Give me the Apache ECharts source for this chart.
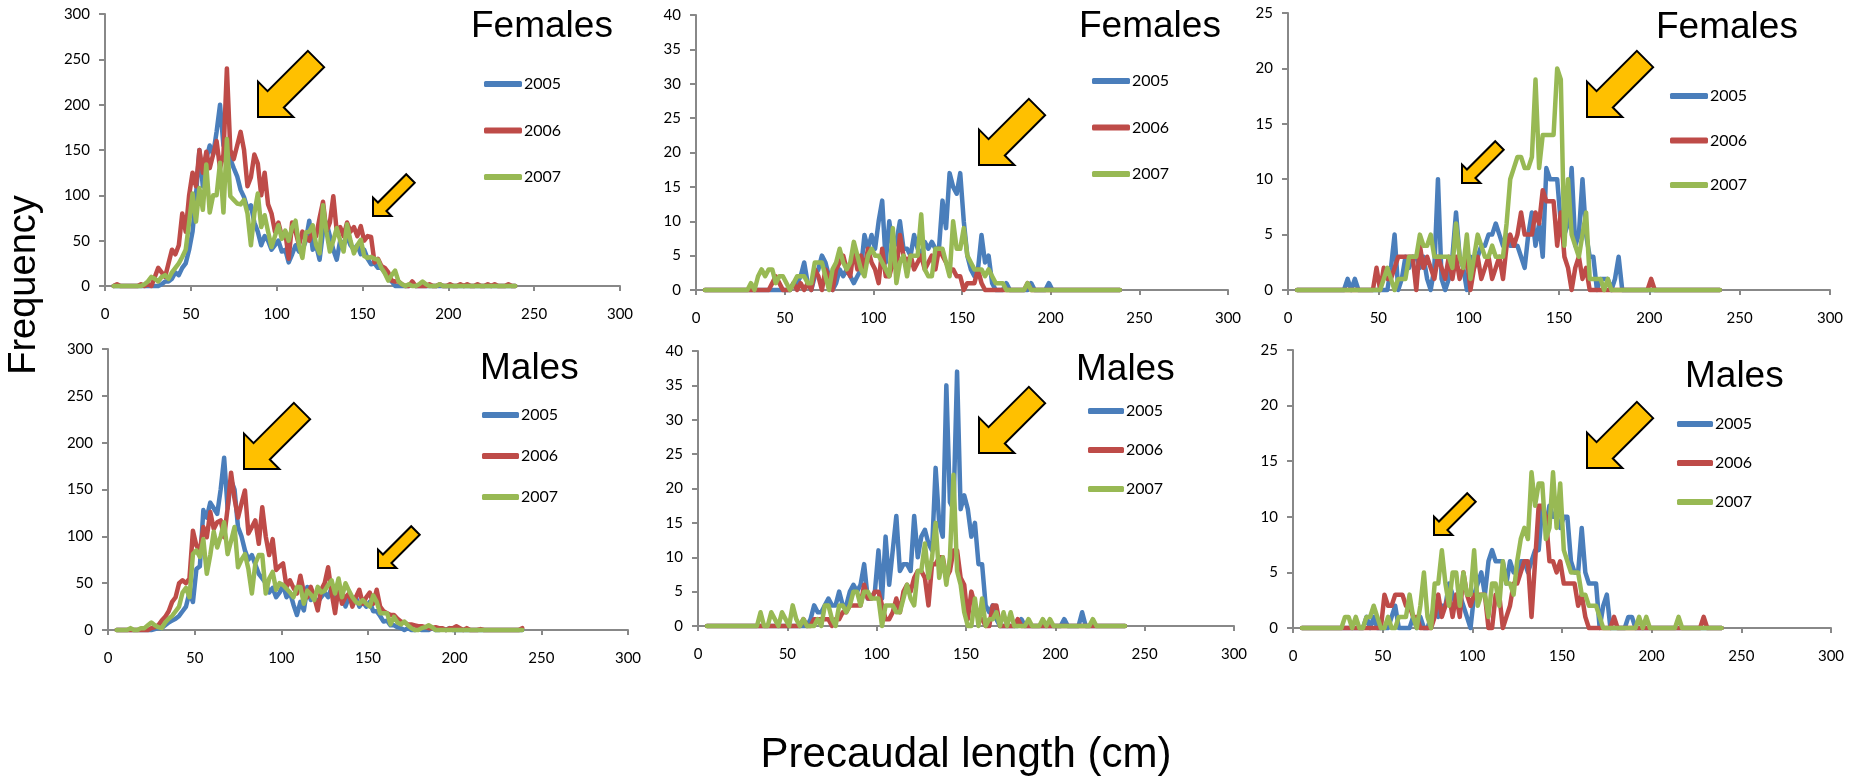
<!DOCTYPE html>
<html><head><meta charset="utf-8">
<script src="https://cdn.jsdelivr.net/npm/echarts@6/dist/echarts.min.js"></script>
<style>html,body{margin:0;padding:0;background:#fff}#c{width:1858px;height:776px}</style>
</head><body><div id="c"></div><script>
// Precaudal length bins (cm)
const lengthBins = [5,7,9,11,13,15,17,19,21,23,25,27,29,31,33,35,37,39,41,43,45,47,49,51,53,55,57,59,61,63,65,67,69,71,73,75,77,79,81,83,85,87,89,91,93,95,97,99,101,103,105,107,109,111,113,115,117,119,121,123,125,127,129,131,133,135,137,139,141,143,145,147,149,151,153,155,157,159,161,163,165,167,169,171,173,175,177,179,181,183,185,187,189,191,193,195,197,199,201,203,205,207,209,211,213,215,217,219,221,223,225,227,229,231,233,235,237,239];
const years = ['2005','2006','2007'];
const yearColors = ['#4A7EBB','#BE4B48','#98B954'];
const xTickStep = 50, xMax = 300;
const panelTitles = ['Females','Females','Females','Males','Males','Males'];
const yMaxes = [300,40,25,300,40,25];
const ySteps = [50,5,5,50,5,5];
const xAxisTitle = 'Precaudal length (cm)';
const yAxisTitle = 'Frequency';

// Panel 1 (Females, left)
const p1_2005 = [0,0,0,0,0,0,0,0,0,0, 0,0,0,0,2,5,5,8,15,12, 20,25,40,60,100,150,110,140,155,145, 170,200,155,150,140,130,121,106,98,85, 89,70,60,45,55,50,40,45,50,38, 40,26,35,45,38,40,50,72,40,45, 29,60,70,55,40,29,50,45,55,45, 40,45,35,40,30,24,25,20,20,15, 8,5,0,0,0,0,0,2,0,0, 0,0,0,0,0,0,0,0,0,0, 0,0,0,0,0,0,0,0,0,0, 0,0,0,0,0,0,0,0];
const p1_2006 = [0,2,0,0,0,0,0,0,2,0, 2,0,10,20,15,10,25,40,35,45, 80,60,100,125,110,150,125,148,130,145, 160,130,145,240,150,140,155,170,150,110, 120,145,135,100,125,90,80,60,70,55, 60,30,70,60,45,60,55,50,60,55, 75,93,60,70,99,60,65,55,70,60, 65,55,66,50,55,54,26,30,22,20, 15,6,5,5,2,0,0,5,0,0, 0,0,2,0,0,2,0,0,2,0, 0,2,0,2,0,0,2,0,0,2, 0,2,0,0,0,2,0,0];
const p1_2007 = [0,0,0,0,0,0,0,0,0,2, 5,10,8,5,10,12,8,15,20,25, 32,40,70,102,71,108,84,134,81,100, 100,136,81,162,99,95,91,90,95,80, 45,80,102,65,78,60,43,55,67,52, 61,50,65,72,45,31,59,60,67,45, 36,89,60,38,50,64,50,38,68,50, 36,45,51,33,31,32,30,29,20,14, 6,12,17,5,2,0,2,0,0,2, 5,2,0,0,0,2,0,0,0,0, 0,0,0,0,0,0,0,0,0,0, 0,0,0,0,0,0,0,0];
// Panel 2 (Females, middle)
const p2_2005 = [0,0,0,0,0,0,0,0,0,0, 0,0,0,0,0,0,0,0,0,0, 0,0,0,0,0,1,1,2,4,1, 0,2,3,5,4,2,0,1,3,2, 3,2,1,2,3,8,6,8,6,10, 13,4,10,6,7,10,6,6,5,8, 6,5,7,6,7,6,6,13,9,17, 15,14,17,10,5,3,2,3,8,4, 5,1,0,0,0,1,0,0,0,0, 0,0,1,0,0,0,0,1,0,0, 0,0,0,0,0,0,0,0,0,0, 0,0,0,0,0,0,0,0];
const p2_2006 = [0,0,0,0,0,0,0,0,0,0, 0,0,0,0,0,0,0,0,0,1, 2,1,0,0,0,1,0,1,0,1, 0,3,2,0,3,2,0,3,4,5, 3,2,6,3,5,3,6,4,3,1, 6,2,2,4,3,8,5,4,5,3, 4,5,3,4,5,3,6,5,4,3, 3,2,2,0,1,1,1,3,1,0, 0,0,0,0,0,0,0,0,0,0, 0,1,0,0,0,0,0,0,0,0, 0,0,0,0,0,0,0,0,0,0, 0,0,0,0,0,0,0,0];
const p2_2007 = [0,0,0,0,0,0,0,0,0,0, 0,0,0,1,0,2,3,2,3,3, 1,2,2,1,0,1,2,2,2,1, 1,4,4,4,2,0,3,4,6,4, 3,4,7,5,3,2,5,6,5,5, 4,3,2,9,1,4,5,2,5,5, 5,11,3,2,2,6,6,6,4,2, 10,6,6,9,5,4,3,3,3,2, 3,2,1,1,1,0,0,0,0,0, 0,1,0,0,0,0,0,0,0,0, 0,0,0,0,0,0,0,0,0,0, 0,0,0,0,0,0,0,0];
// Panel 3 (Females, right)
const p3_2005 = [0,0,0,0,0,0,0,0,0,0, 0,0,0,0,1,0,1,0,0,0, 0,0,0,0,0,0,2,5,0,1, 3,2,3,3,2,3,1,0,2,10, 1,0,1,3,7,3,2,0,3,2, 3,4,4,5,5,6,5,4,5,4, 4,4,3,2,5,7,4,6,3,11, 10,10,10,6,5,6,11,4,5,10, 5,3,3,0,1,1,1,0,1,3, 0,0,0,0,0,0,0,0,0,0, 0,0,0,0,0,0,0,0,0,0, 0,0,0,0,0,0,0,0];
const p3_2006 = [0,0,0,0,0,0,0,0,0,0, 0,0,0,0,0,0,0,0,0,0, 0,0,2,0,2,1,1,2,3,3, 3,3,3,0,4,2,3,2,1,3, 2,1,3,1,3,1,2,3,0,2, 3,1,2,3,1,2,3,1,4,5, 4,5,7,5,5,5,7,6,9,8, 8,8,4,7,3,2,0,2,3,1, 2,0,0,0,0,0,0,0,0,0, 0,0,0,0,0,0,0,0,1,0, 0,0,0,0,0,0,0,0,0,0, 0,0,0,0,0,0,0,0];
const p3_2007 = [0,0,0,0,0,0,0,0,0,0, 0,0,0,0,0,0,0,0,0,0, 0,0,0,0,1,2,1,0,1,1, 1,3,3,3,5,4,4,5,3,3, 3,3,3,2,6,3,2,5,1,3, 5,4,3,3,4,3,3,3,6,10, 11,12,12,11,11,12,19,11,14,14, 14,14,20,19,4,10,5,4,3,5, 7,1,1,1,1,0,1,0,0,0, 0,0,0,0,0,0,0,0,0,0, 0,0,0,0,0,0,0,0,0,0, 0,0,0,0,0,0,0,0];
// Panel 4 (Males, left)
const p4_2005 = [0,0,0,0,0,0,0,0,0,0, 0,1,2,2,5,8,10,12,15,20, 25,40,30,65,68,128,120,136,130,124, 150,184,130,160,150,110,100,85,75,80, 70,60,55,50,40,45,35,40,48,35, 40,27,16,30,21,46,32,35,30,35, 40,35,45,30,35,40,25,35,30,35, 25,30,25,30,20,20,15,9,10,5, 5,3,2,0,2,0,0,1,0,0, 0,2,0,0,1,0,2,0,0,0, 0,0,0,0,0,0,0,0,0,0, 0,0,0,0,0,0,0,0];
const p4_2006 = [0,0,0,0,0,0,0,0,0,0, 2,3,5,10,14,20,30,35,50,53, 50,55,106,90,85,110,99,126,108,115, 117,99,130,168,140,120,135,149,103,110, 117,92,131,100,80,97,64,68,71,46, 53,45,39,58,40,35,46,35,21,43, 50,67,40,18,46,28,35,39,25,35, 43,28,35,40,28,43,25,20,18,16, 16,12,9,8,6,6,5,4,4,3, 2,2,3,2,2,0,2,2,4,2, 0,2,0,0,0,1,0,0,0,0, 0,0,0,0,0,0,0,2];
const p4_2007 = [0,0,0,0,2,0,0,2,2,5, 8,5,3,2,8,12,15,20,25,40, 45,35,81,85,78,97,60,80,105,88, 100,115,81,95,110,67,75,81,65,39, 71,80,80,39,55,62,43,50,48,44, 40,35,46,46,28,42,38,32,46,40, 42,48,53,39,55,35,50,42,35,30, 28,32,28,25,37,30,18,18,18,6, 14,8,6,9,5,2,0,0,2,3, 5,3,0,0,0,0,0,0,0,0, 0,0,0,0,0,0,0,0,0,0, 0,0,0,0,0,0,0,0];
// Panel 5 (Males, middle)
const p5_2005 = [0,0,0,0,0,0,0,0,0,0, 0,0,0,0,0,0,0,0,0,0, 0,0,0,0,0,0,0,0,0,1, 3,2,2,3,4,3,3,5,3,3, 5,6,5,6,9,4,4,5,11,4, 13,6,11,16,8,9,9,8,16,10, 13,14,12,11,23,15,13,35,18,17, 37,17,19,17,13,15,9,9,3,2, 3,1,0,0,0,0,0,0,1,0, 0,0,0,0,0,0,0,0,0,0, 1,0,0,0,0,2,0,0,0,0, 0,0,0,0,0,0,0,0];
const p5_2006 = [0,0,0,0,0,0,0,0,0,0, 0,0,0,0,0,0,0,0,0,0, 0,0,0,0,0,0,0,1,0,0, 1,1,1,1,1,0,1,1,2,2, 3,3,3,3,6,4,4,5,5,3, 1,1,2,4,2,5,6,5,7,8, 8,7,3,9,9,10,10,7,8,11, 11,7,6,1,5,3,1,1,0,0, 3,3,0,0,0,0,0,1,0,0, 0,0,0,0,0,0,0,0,0,0, 0,0,0,0,0,0,0,0,0,0, 0,0,0,0,0,0,0,0];
const p5_2007 = [0,0,0,0,0,0,0,0,0,0, 0,0,0,0,0,2,0,0,2,1, 0,2,1,0,3,1,0,1,0,0, 0,1,0,3,3,1,0,3,3,2, 3,5,5,3,5,5,4,4,4,0, 3,3,3,2,2,4,6,4,3,8, 8,12,7,10,15,7,10,6,10,22, 8,6,2,0,0,4,0,4,0,1, 1,2,0,2,0,2,0,0,0,0, 1,0,0,0,1,0,1,0,0,0, 0,0,0,0,0,0,0,0,1,0, 0,0,0,0,0,0,0,0];
// Panel 6 (Males, right)
const p6_2005 = [0,0,0,0,0,0,0,0,0,0, 0,0,0,0,0,0,0,0,1,0, 1,0,0,0,0,1,2,0,0,0, 0,1,0,1,0,0,1,2,1,2, 2,4,3,2,3,2,1,0,3,4, 5,3,6,7,6,6,6,4,6,5, 5,6,6,5,6,7,7,11,9,11, 10,10,9,10,10,6,5,5,9,5, 4,4,4,0,2,3,0,0,0,0, 0,1,1,0,0,0,0,0,0,0, 0,0,0,0,0,0,0,0,0,0, 0,0,0,0,0,0,0,0];
const p6_2006 = [0,0,0,0,0,0,0,0,0,0, 0,0,0,0,0,0,0,0,0,0, 0,0,0,3,2,2,3,3,3,2, 2,1,1,0,0,0,0,1,3,1, 2,3,1,3,1,5,3,2,3,3, 3,3,0,0,3,3,0,1,2,4, 4,5,6,6,1,6,11,11,10,6, 6,5,6,4,4,4,4,2,3,1, 0,0,0,0,0,0,0,1,0,0, 0,0,0,0,0,0,0,0,0,0, 0,0,0,0,0,0,0,0,0,0, 0,0,1,0,0,0,0,0];
const p6_2007 = [0,0,0,0,0,0,0,0,0,0, 0,0,1,1,0,1,0,0,1,1, 2,1,0,0,1,0,0,1,1,1, 3,1,0,2,5,1,0,4,4,7, 4,2,5,5,2,5,3,3,7,2, 3,3,1,4,4,2,6,4,4,3, 6,8,9,8,14,11,13,13,8,9, 14,9,13,7,6,5,5,5,3,3, 2,2,2,1,0,0,0,0,0,0, 0,0,0,0,1,0,1,0,0,0, 0,0,0,0,0,1,0,0,0,0, 0,0,0,0,0,0,0,0];

const panelSeries = [
  [p1_2005, p1_2006, p1_2007],
  [p2_2005, p2_2006, p2_2007],
  [p3_2005, p3_2006, p3_2007],
  [p4_2005, p4_2006, p4_2007],
  [p5_2005, p5_2006, p5_2007],
  [p6_2005, p6_2006, p6_2007]
];

// ---------- layout (pixels) ----------
const grids = [
  {left:105, top:14, width:515, height:272},
  {left:696, top:15, width:532, height:275},
  {left:1288, top:13, width:542, height:277},
  {left:108, top:349, width:520, height:281},
  {left:698, top:351, width:536, height:275},
  {left:1293, top:350, width:538, height:278}
];
const legendPos = [
  {left:484, first:84, step:46.5, w:38},
  {left:1092, first:81, step:46.5, w:38},
  {left:1670, first:96, step:44.5, w:38},
  {left:482, first:415, step:41, w:37},
  {left:1088, first:411, step:39, w:36},
  {left:1677, first:424, step:39, w:36}
];
const titlePos = [
  {x:471, y:27}, {x:1079, y:27}, {x:1656, y:28},
  {x:480, y:369}, {x:1076, y:370}, {x:1685, y:377}
];
// arrow tips [x, y, big?]
const arrows = [
  [258,117,1],[373,216,0],[979,165,1],[1587,117,1],[1462,183,0],
  [244,469,1],[378,568,0],[979,453,1],[1587,468,1],[1434,535,0]
];

function arrowPoly(tx, ty, big) {
  const L = big ? 82 : 53, hw = big ? 50 : 26, hl = big ? 25 : 13, sw = big ? 23 : 12;
  const s = Math.SQRT1_2;
  const d = [-s, s];      // direction tail -> tip
  const n = [s, s];       // perpendicular
  const B = [tx - d[0]*hl, ty - d[1]*hl];
  const C = [tx - d[0]*L, ty - d[1]*L];
  const p = (P, k) => [P[0] + n[0]*k, P[1] + n[1]*k];
  return [[tx,ty], p(B, hw/2), p(B, sw/2), p(C, sw/2), p(C, -sw/2), p(B, -sw/2), p(B, -hw/2)];
}

const option = {
  animation: false,
  backgroundColor: '#fff',
  grid: [], xAxis: [], yAxis: [], series: [], legend: [], graphic: []
};

grids.forEach((g, i) => {
  option.grid.push({left:g.left, top:g.top, width:g.width, height:g.height, containLabel:false});
  option.xAxis.push({
    type:'value', gridIndex:i, min:0, max:xMax, interval:xTickStep,
    axisLine:{show:true, onZero:false, lineStyle:{color:'#888888', width:2}},
    axisTick:{show:true, length:5, lineStyle:{color:'#888888', width:2}},
    splitLine:{show:false},
    axisLabel:{margin:21, color:'#000', fontFamily:'Lato', fontSize:15}
  });
  option.yAxis.push({
    type:'value', gridIndex:i, min:0, max:yMaxes[i], interval:ySteps[i],
    axisLine:{show:true, lineStyle:{color:'#888888', width:2}},
    axisTick:{show:true, length:6, lineStyle:{color:'#888888', width:2}},
    splitLine:{show:false},
    axisLabel:{margin:15, color:'#000', fontFamily:'Lato', fontSize:15}
  });
  panelSeries[i].forEach((vals, k) => {
    option.series.push({
      type:'line', name:years[k], xAxisIndex:i, yAxisIndex:i,
      data: lengthBins.map((x, j) => [x, vals[j]]),
      symbol:'none', showSymbol:false, clip:false,
      lineStyle:{color:yearColors[k], width:4.5, cap:'round', join:'round'},
      itemStyle:{color:yearColors[k]},
      z: 2 + k
    });
  });
  const lp = legendPos[i];
  option.legend.push({
    data: years, orient:'vertical', left:lp.left, top:lp.first - 10,
    itemWidth:lp.w, itemHeight:6, itemGap:lp.step - 20, icon:'roundRect',
    selectedMode:false, padding:0,
    textStyle:{fontFamily:'Lato', fontSize:16, color:'#000', lineHeight:20, padding:[0,0,0,-3]}
  });
  option.graphic.push({
    type:'text', x:titlePos[i].x, y:titlePos[i].y,
    style:{text:panelTitles[i], font:'37px "Liberation Sans", Arial, sans-serif', fill:'#000',
           align:'left', verticalAlign:'middle', textAlign:'left', textVerticalAlign:'middle'}
  });
});

arrows.forEach(a => {
  option.graphic.push({
    type:'polygon', z:100,
    shape:{points: arrowPoly(a[0], a[1], a[2])},
    style:{fill:'#FFC000', stroke:'#000', lineWidth:2, lineJoin:'miter'}
  });
});

option.graphic.push({
  type:'text', x:25, y:285, rotation:Math.PI/2,
  style:{text:yAxisTitle, font:'38px "Liberation Sans", Arial, sans-serif', fill:'#000',
         align:'center', verticalAlign:'middle', textAlign:'center', textVerticalAlign:'middle'}
});
option.graphic.push({
  type:'text', x:966, y:755,
  style:{text:xAxisTitle, font:'42px "Liberation Sans", Arial, sans-serif', fill:'#000',
         align:'center', verticalAlign:'middle', textAlign:'center', textVerticalAlign:'middle'}
});

const chart = echarts.init(document.getElementById('c'), null, {renderer:'canvas', width:1858, height:776});
chart.setOption(option);
</script></body></html>
